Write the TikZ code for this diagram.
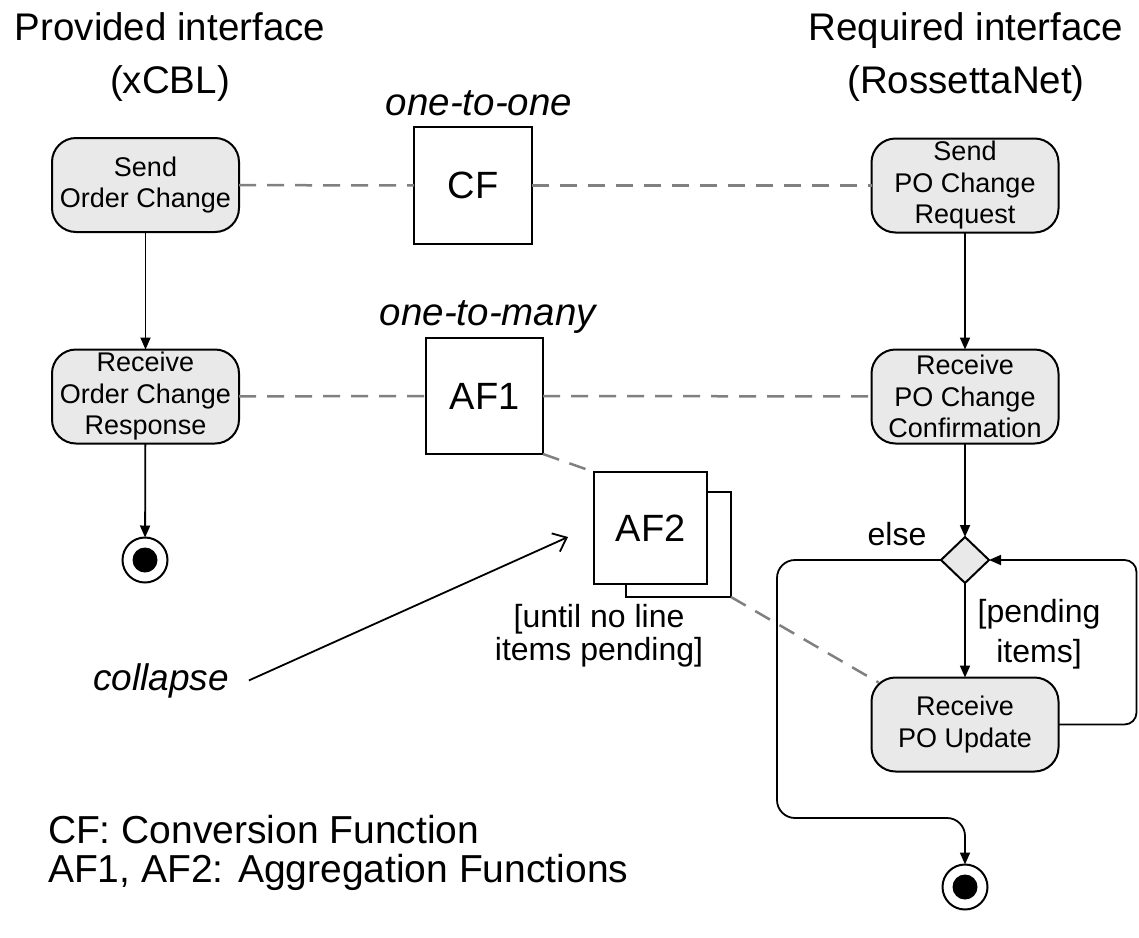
\documentclass[tikz,border=0pt]{standalone}
\usepackage{fontspec}
\setmainfont{Liberation Sans}
\usetikzlibrary{arrows.meta,shapes.geometric,calc}
\definecolor{actgray}{RGB}{233,233,233}
\definecolor{dashgray}{RGB}{128,128,128}
\begin{document}
\begin{tikzpicture}[x=1pt,y=-1pt,
  every node/.style={inner sep=0pt, outer sep=0pt},
  action/.style={draw, line width=2pt, rounded corners=24pt, fill=actgray,
    minimum width=187pt, minimum height=94pt, align=center,
    font=\fontsize{27}{31.5}\selectfont},
  fnbox/.style={draw, line width=2pt, fill=white, font=\fontsize{38}{44}\selectfont},
  flow/.style={line width=1.8pt, -{Triangle[length=12pt,width=10pt]}},
  trace/.style={draw=dashgray, line width=2.5pt, dash pattern=on 17pt off 11pt},
  big/.style={font=\fontsize{38.5}{53}\selectfont, align=center},
  mult/.style={font=\itshape\fontsize{38.5}{44}\selectfont, anchor=base},
  guard/.style={font=\fontsize{32}{40}\selectfont, align=center},
  final/.style={circle, draw, line width=2pt, fill=white, minimum size=45pt},
  finaldot/.style={circle, fill=black, minimum size=25pt},
]
\useasboundingbox (0,0) rectangle (1139,937);

% headings
\node[big] (provided) at (170,57) {Provided interface\\(xCBL)};
\node[big] (required) at (966,57) {Required interface\\(RossettaNet)};
\node[mult] (o2o) at (479,115) {one-to-one};
\node[mult] (o2m) at (488,325) {one-to-many};

% actions of both interfaces
\node[action] (sendOC) at (145.5,185) {Send\\Order Change};
\node[action] (recvOCR) at (145.5,396.5) {Receive\\Order Change\\Response};
\node[action] (sendPO) at (965,185.5) {Send\\PO Change\\Request};
\node[action] (recvPOC) at (965,396.5) {Receive\\PO Change\\Confirmation};
\node[action] (upd) at (965,724.5) {Receive\\PO Update};

% mediation functions
\node[fnbox, minimum width=118pt, minimum height=117pt] (cf) at (473,185.5) {CF};
\node[fnbox, minimum width=117pt, minimum height=116pt] (af1) at (484.5,396) {AF1};
\node[fnbox, minimum width=105pt, minimum height=105pt] (af2b) at (678.5,544.5) {};
\node[fnbox, minimum width=113pt, minimum height=112pt] (af2) at (650.5,528) {AF2};

% decision and final states
\node[diamond, draw, line width=2pt, fill=actgray, minimum width=48pt, minimum height=46pt] (dec) at (965,560) {};
\node[final] (end1) at (145,560) {};
\node[finaldot] (end1dot) at (145,560) {};
\node[final] (end2) at (965,887) {};
\node[finaldot] (end2dot) at (965,887) {};

% labels
\node[guard, anchor=base] (else) at (897,545) {else};
\node[guard] (pend) at (1039,634) {[pending\\items]};
\node[guard, font=\fontsize{32}{33}\selectfont] (until) at (599,635.5) {[until no line\\items pending]};
\node[font=\itshape\fontsize{37}{44}\selectfont, anchor=base] (collapse) at (161,690) {collapse};
\coordinate (collapseTip) at (568,537);
\node[anchor=base west, font=\fontsize{39}{44}\selectfont] (legend1) at (48,843) {CF: Conversion Function};
\node[anchor=base west, font=\fontsize{39}{44}\selectfont] (legend2) at (48,882) {AF1, AF2: Aggregation Functions};

% control flow
\draw[flow] (sendOC) -- (recvOCR);
\draw[flow] (recvOCR) -- (end1);
\draw[flow] (sendPO) -- (recvPOC);
\draw[flow] (recvPOC) -- (dec);
\draw[flow] (dec) -- (upd);
\draw[flow, rounded corners=12pt] (upd.east) -- (1136.5,724.5) -- (1136.5,560) -- (dec.east);
\draw[flow, rounded corners=18pt] (dec.west) -- (777,560) -- (777,818) -- (965,818) -- (end2);

% correspondences
\draw[trace] (sendOC) -- (cf);
\draw[trace] (cf) -- (sendPO);
\draw[trace] (recvOCR) -- (af1);
\draw[trace] (af1) -- (recvPOC);
\draw[trace] (af1.south east) -- (af2.north west);
\draw[trace] (af2b.south east) -- ([shift={(7,5)}]upd.north west);

% collapse pointer
\draw[line width=1.8pt, -{Straight Barb[length=12pt,width=20pt]}] ([xshift=20pt]collapse.east) -- (collapseTip);
\end{tikzpicture}
\end{document}
